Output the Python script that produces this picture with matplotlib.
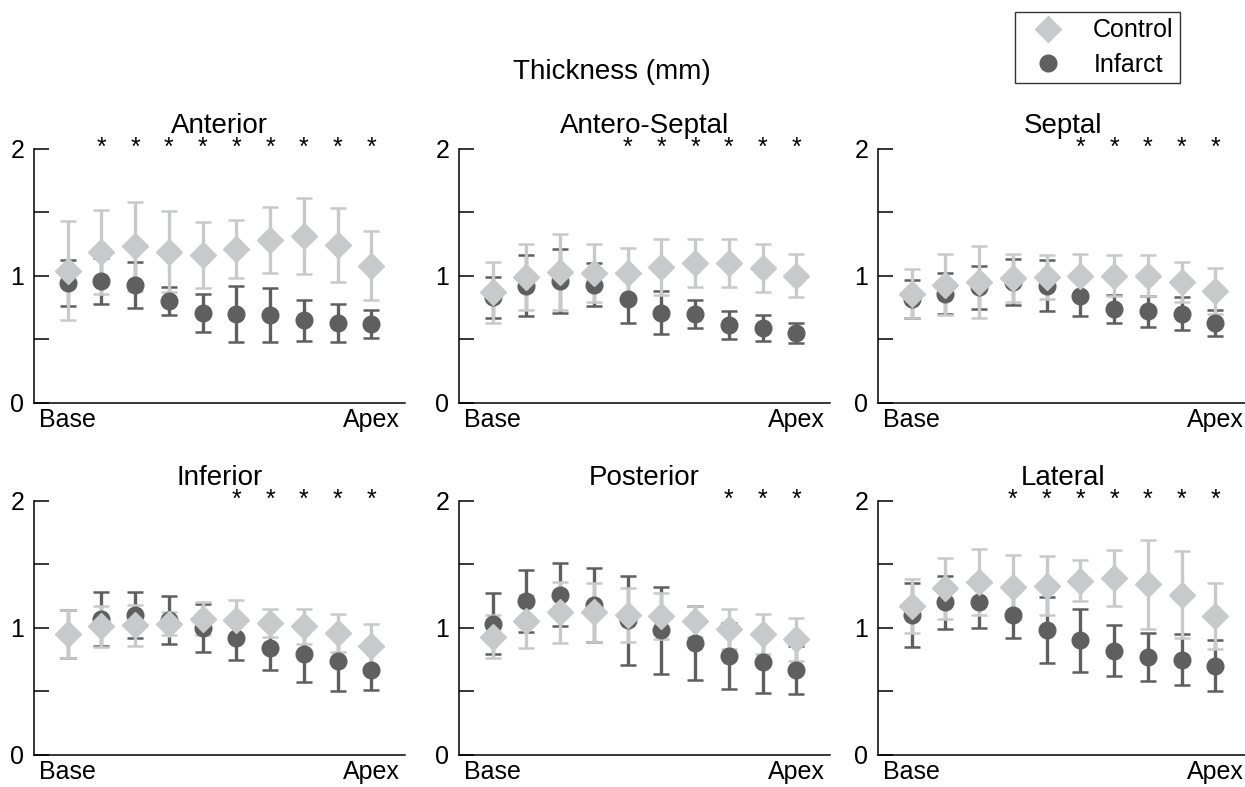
# ============================================================
#  Wall thickness from base to apex - Control x Infarct
# ============================================================

import matplotlib
matplotlib.use("Agg")
import matplotlib.pyplot as plt
from matplotlib.lines import Line2D

plt.rcParams["font.family"] = ["Liberation Sans", "DejaVu Sans"]

# ============================================================
# 1. Data
# ============================================================

segments = [1, 2, 3, 4, 5, 6, 7, 8, 9, 10]
regions = ["Anterior", "Antero-Septal", "Septal", "Inferior", "Posterior", "Lateral"]

ctrl_ant = [1.04, 1.19, 1.23, 1.19, 1.16, 1.21, 1.28, 1.31, 1.24, 1.08]
ctrl_ant_err = [0.39, 0.33, 0.35, 0.32, 0.26, 0.23, 0.26, 0.30, 0.29, 0.27]
inf_ant = [0.94, 0.96, 0.93, 0.80, 0.71, 0.70, 0.69, 0.65, 0.63, 0.62]
inf_ant_err = [0.18, 0.18, 0.18, 0.11, 0.15, 0.22, 0.21, 0.16, 0.15, 0.11]
star_ant = [2, 3, 4, 5, 6, 7, 8, 9, 10]

ctrl_as = [0.87, 0.99, 1.03, 1.02, 1.02, 1.07, 1.10, 1.10, 1.06, 1.00]
ctrl_as_err = [0.24, 0.26, 0.30, 0.23, 0.20, 0.22, 0.19, 0.19, 0.19, 0.17]
inf_as = [0.83, 0.92, 0.96, 0.93, 0.82, 0.71, 0.70, 0.61, 0.59, 0.55]
inf_as_err = [0.16, 0.24, 0.25, 0.17, 0.19, 0.17, 0.11, 0.11, 0.10, 0.08]
star_as = [5, 6, 7, 8, 9, 10]

ctrl_sep = [0.86, 0.93, 0.95, 0.98, 0.99, 1.00, 1.00, 1.00, 0.95, 0.88]
ctrl_sep_err = [0.19, 0.24, 0.28, 0.19, 0.17, 0.17, 0.16, 0.16, 0.16, 0.18]
inf_sep = [0.82, 0.86, 0.91, 0.95, 0.92, 0.84, 0.74, 0.72, 0.70, 0.63]
inf_sep_err = [0.15, 0.16, 0.17, 0.18, 0.20, 0.16, 0.11, 0.12, 0.13, 0.10]
star_sep = [6, 7, 8, 9, 10]

ctrl_inf = [0.95, 1.01, 1.02, 1.03, 1.07, 1.06, 1.04, 1.01, 0.96, 0.86]
ctrl_inf_err = [0.19, 0.16, 0.16, 0.09, 0.13, 0.16, 0.11, 0.14, 0.15, 0.17]
inf_inf = [0.95, 1.07, 1.10, 1.06, 1.00, 0.92, 0.84, 0.79, 0.74, 0.67]
inf_inf_err = [0.19, 0.21, 0.18, 0.19, 0.19, 0.17, 0.17, 0.22, 0.24, 0.16]
star_inf = [6, 7, 8, 9, 10]

ctrl_post = [0.93, 1.05, 1.12, 1.12, 1.10, 1.09, 1.05, 0.99, 0.95, 0.91]
ctrl_post_err = [0.17, 0.21, 0.24, 0.23, 0.21, 0.18, 0.12, 0.16, 0.16, 0.17]
inf_post = [1.03, 1.21, 1.26, 1.18, 1.06, 0.98, 0.88, 0.78, 0.73, 0.67]
inf_post_err = [0.24, 0.24, 0.25, 0.29, 0.35, 0.34, 0.29, 0.26, 0.24, 0.19]
star_post = [8, 9, 10]

ctrl_lat = [1.17, 1.31, 1.36, 1.32, 1.33, 1.37, 1.39, 1.34, 1.26, 1.09]
ctrl_lat_err = [0.21, 0.24, 0.26, 0.25, 0.23, 0.16, 0.22, 0.35, 0.34, 0.26]
inf_lat = [1.10, 1.20, 1.20, 1.10, 0.98, 0.90, 0.82, 0.77, 0.75, 0.70]
inf_lat_err = [0.25, 0.21, 0.20, 0.18, 0.26, 0.25, 0.20, 0.19, 0.20, 0.20]
star_lat = [4, 5, 6, 7, 8, 9, 10]

paineis = [
    (ctrl_ant, ctrl_ant_err, inf_ant, inf_ant_err, star_ant),
    (ctrl_as, ctrl_as_err, inf_as, inf_as_err, star_as),
    (ctrl_sep, ctrl_sep_err, inf_sep, inf_sep_err, star_sep),
    (ctrl_inf, ctrl_inf_err, inf_inf, inf_inf_err, star_inf),
    (ctrl_post, ctrl_post_err, inf_post, inf_post_err, star_post),
    (ctrl_lat, ctrl_lat_err, inf_lat, inf_lat_err, star_lat),
]

# ============================================================
# 2. Figure
# ============================================================

cor_ctrl = "#c8c9ca"
cor_inf = "#5f5f60"
W, H = 1245, 787

fig = plt.figure(figsize=(12.45, 7.87), dpi=100)

lefts = [34, 459, 878]
bottoms = [403, 755]

for i, (nome, (c, ce, m, me, stars)) in enumerate(zip(regions, paineis)):
    linha, col = divmod(i, 3)
    ax = fig.add_axes([lefts[col] / W, 1 - bottoms[linha] / H, 371 / W, 254.5 / H])

    ax.errorbar(segments, m, yerr=me, fmt="o", color=cor_inf, markersize=12,
                elinewidth=2.4, capsize=6, capthick=1.8)
    ax.errorbar(segments, c, yerr=ce, fmt="D", color=cor_ctrl, markersize=13,
                elinewidth=2.4, capsize=6, capthick=1.8)

    # significance marks
    for s in stars:
        ax.text(s, 1.95, "*", ha="center", va="baseline", fontsize=18)

    ax.set_xlim(0, 11)
    ax.set_ylim(0, 2)
    ax.set_yticks([0, 0.5, 1, 1.5, 2])
    ax.set_yticklabels(["0", "", "1", "", "2"])
    ax.set_xticks([1, 10])
    ax.set_xticklabels(["Base", "Apex"])
    ax.tick_params(axis="y", direction="in", length=11, width=1.1, pad=7, labelsize=18)
    ax.tick_params(axis="x", length=0, pad=3.5, labelsize=18)
    for lado in ["left", "bottom"]:
        ax.spines[lado].set_linewidth(1.1)
    ax.spines["top"].set_visible(False)
    ax.spines["right"].set_visible(False)
    ax.set_title(nome, fontsize=20, pad=11)

fig.text(612 / W, 1 - 79 / H, "Thickness (mm)", ha="center", va="baseline", fontsize=20)

handles = [
    Line2D([], [], marker="D", color=cor_ctrl, linestyle="none", markersize=13),
    Line2D([], [], marker="o", color=cor_inf, linestyle="none", markersize=12),
]
leg = fig.legend(handles, ["Control", "Infarct"], loc="upper right",
                 bbox_to_anchor=(1180 / W, 1 - 12 / H), fontsize=18,
                 fancybox=False, edgecolor="black", handletextpad=0.7,
                 borderpad=0.25, labelspacing=0.42, handlelength=2.2,
                 borderaxespad=0)
leg.get_frame().set_linewidth(1.0)

fig.savefig("out.png", dpi=100)
plt.close()
